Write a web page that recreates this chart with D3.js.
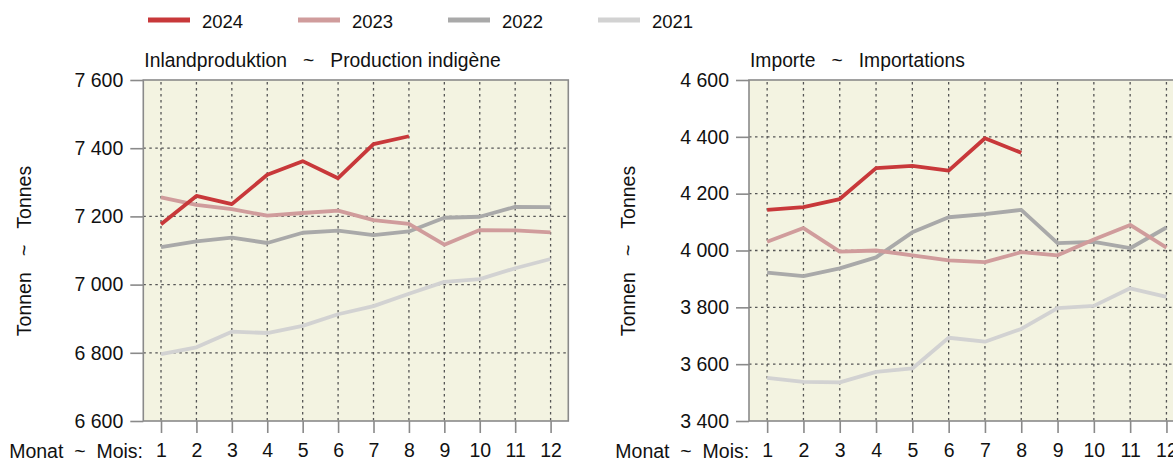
<!DOCTYPE html>
<html>
<head>
<meta charset="utf-8">
<script src="https://cdn.jsdelivr.net/npm/d3@7"></script>
<style>
  html, body { margin: 0; padding: 0; background: #ffffff; }
  svg { display: block; font-family: "Liberation Sans", Arial, sans-serif; }
</style>
</head>
<body>
<svg id="chart" width="1173" height="461"></svg>
<script>
// Months on the x axis
const months = [1, 2, 3, 4, 5, 6, 7, 8, 9, 10, 11, 12];
const years = ["2024", "2023", "2022", "2021"];
const yearColors = ["#c8383a", "#d09c9c", "#a9a9a9", "#d2d2d2"];

// Inlandproduktion ~ Production indigène (tonnes)
const prod2024 = [7177, 7260, 7236, 7322, 7362, 7312, 7412, 7435];
const prod2023 = [7256, 7234, 7221, 7202, 7210, 7217, 7189, 7178, 7117, 7160, 7159, 7153];
const prod2022 = [7110, 7127, 7138, 7122, 7152, 7158, 7145, 7156, 7196, 7199, 7228, 7227];
const prod2021 = [6796, 6816, 6862, 6858, 6879, 6913, 6937, 6973, 7008, 7016, 7048, 7075];
const prodTicks = [6600, 6800, 7000, 7200, 7400, 7600];

// Importe ~ Importations (tonnes)
const imp2024 = [4143, 4153, 4181, 4290, 4298, 4281, 4395, 4344];
const imp2023 = [4031, 4079, 3996, 4000, 3983, 3965, 3959, 3994, 3983, 4039, 4090, 4010];
const imp2022 = [3922, 3910, 3937, 3976, 4064, 4117, 4128, 4143, 4026, 4030, 4008, 4081];
const imp2021 = [3552, 3538, 3536, 3573, 3585, 3693, 3679, 3724, 3797, 3805, 3867, 3837];
const impTicks = [3400, 3600, 3800, 4000, 4200, 4400, 4600];

const svg = d3.select("#chart");
const TEXT = "#111111";
const FS = 19.5;        // axis labels
const FS_TITLE = 19.3;  // panel titles
const FS_LEGEND = 18.5;

const fmt = d3.formatLocale({ decimal: ".", thousands: " ", grouping: [3], currency: ["", ""] }).format(",");

// Legend across the top
const legend = svg.append("g");
years.forEach((y, i) => {
  const gx = 148 + i * 150;
  legend.append("line")
    .attr("x1", gx).attr("x2", gx + 42).attr("y1", 20).attr("y2", 20)
    .attr("stroke", yearColors[i]).attr("stroke-width", 5);
  legend.append("text")
    .attr("x", gx + 54).attr("y", 27.5)
    .attr("font-size", FS_LEGEND).attr("fill", TEXT).text(y);
});

function panel(cfg) {
  const g = svg.append("g");
  const x = d3.scaleLinear().domain([0.5, 12.5]).range([cfg.left, cfg.right]);
  const y = d3.scaleLinear().domain([cfg.ticks[0], cfg.ticks[cfg.ticks.length - 1]]).range([421, 80]);

  // plot background
  g.append("rect")
    .attr("x", cfg.left).attr("y", 80)
    .attr("width", cfg.right - cfg.left).attr("height", 341)
    .attr("fill", "#f3f3e1");

  // dotted grid
  g.append("g").selectAll("line").data(cfg.ticks.slice(1, -1)).join("line")
    .attr("x1", cfg.left).attr("x2", cfg.right)
    .attr("y1", d => y(d)).attr("y2", d => y(d))
    .attr("stroke", "#555555").attr("stroke-width", 1.3).attr("stroke-dasharray", "2.5,3.5");
  g.append("g").selectAll("line").data(months).join("line")
    .attr("x1", d => x(d)).attr("x2", d => x(d))
    .attr("y1", 82).attr("y2", 421)
    .attr("stroke", "#555555").attr("stroke-width", 1.3).attr("stroke-dasharray", "2.5,3.5");

  // series, oldest year underneath
  const line = d3.line().x((d, i) => x(months[i])).y(d => y(d));
  for (let i = cfg.series.length - 1; i >= 0; i--) {
    g.append("path").datum(cfg.series[i])
      .attr("d", line).attr("fill", "none")
      .attr("stroke", yearColors[i]).attr("stroke-width", 3.8)
      .attr("stroke-linejoin", "round");
  }

  // frame
  g.append("rect")
    .attr("x", cfg.left).attr("y", 80)
    .attr("width", cfg.right - cfg.left).attr("height", 341)
    .attr("fill", "none").attr("stroke", "#8a8a8a").attr("stroke-width", 1.6);

  // y axis
  const ya = g.append("g").attr("transform", `translate(${cfg.left},0)`)
    .call(d3.axisLeft(y).tickValues(cfg.ticks).tickSize(13).tickPadding(7).tickFormat(fmt));
  ya.select(".domain").remove();
  ya.selectAll(".tick line").attr("stroke", "#8a8a8a").attr("stroke-width", 1.6);
  ya.selectAll(".tick text").attr("font-size", FS).attr("fill", TEXT).attr("font-family", null);

  // x axis
  const xa = g.append("g").attr("transform", "translate(0,421)")
    .call(d3.axisBottom(x).tickValues(months).tickSize(12).tickPadding(10.5).tickFormat(d3.format("d")));
  xa.select(".domain").remove();
  xa.selectAll(".tick line").attr("stroke", "#8a8a8a").attr("stroke-width", 1.6);
  xa.selectAll(".tick text").attr("font-size", FS).attr("fill", TEXT).attr("font-family", null);

  g.append("text")
    .attr("x", x(1) - 18).attr("y", 457.5)
    .attr("text-anchor", "end").attr("font-size", FS).attr("fill", TEXT)
    .attr("xml:space", "preserve")
    .text("Monat  ~  Mois:");

  // panel title
  g.append("text")
    .attr("x", cfg.left + 1).attr("y", 67)
    .attr("font-size", FS_TITLE).attr("fill", TEXT)
    .attr("xml:space", "preserve")
    .text(cfg.title);

  // y axis title
  g.append("text")
    .attr("transform", `translate(${cfg.ytitleX},251) rotate(-90)`)
    .attr("text-anchor", "middle").attr("dominant-baseline", "central")
    .attr("font-size", FS).attr("fill", TEXT)
    .attr("xml:space", "preserve")
    .text("Tonnen   ~   Tonnes");
}

panel({
  left: 143.3, right: 568.3, ticks: prodTicks, ytitleX: 24,
  title: "Inlandproduktion   ~   Production indigène",
  series: [prod2024, prod2023, prod2022, prod2021]
});
panel({
  left: 749, right: 1184.6, ticks: impTicks, ytitleX: 628,
  title: "Importe   ~   Importations",
  series: [imp2024, imp2023, imp2022, imp2021]
});
</script>
</body>
</html>
